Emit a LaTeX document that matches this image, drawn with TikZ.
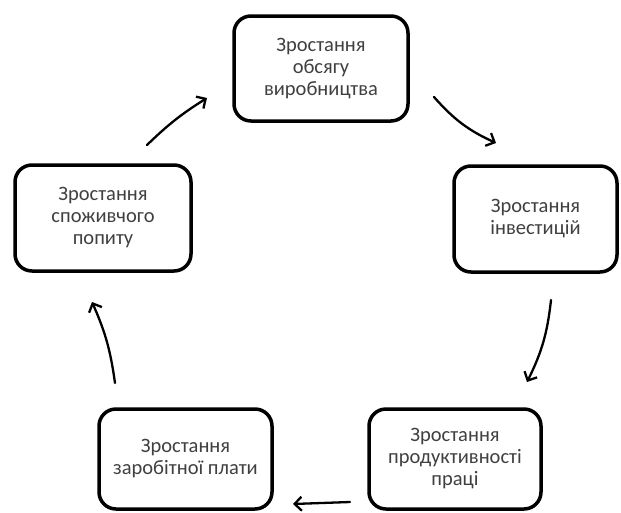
\documentclass[tikz,border=0pt]{standalone}
\usepackage{fontspec}
\setmainfont{Carlito}
\usetikzlibrary{arrows.meta}
\tikzset{
  box/.style={draw=black, line width=3.5pt, rounded corners=17pt, align=center,
    font=\fontsize{20.5}{22}\selectfont, text=black!75, inner sep=0pt, fill=white},
  arr/.style={line width=2.3pt, line cap=round, -{Straight Barb[length=7pt,width=14pt,line width=2.3pt]}}
}
\begin{document}
\begin{tikzpicture}[x=1pt,y=-1pt]
\useasboundingbox (0,0) rectangle (621,512);
\fill[white] (0,0) rectangle (621,512);
\node[box, minimum width=174pt, minimum height=105pt] (top) at (321,68.5) {Зростання\\обсягу\\виробництва};
\node[box, minimum width=163pt, minimum height=106pt] (right) at (535.5,219) {Зростання\\інвестицій};
\node[box, minimum width=176pt, minimum height=106pt] (left) at (103,218) {Зростання\\споживчого\\попиту};
\node[box, minimum width=173pt, minimum height=100pt] (bl) at (185.5,459) {Зростання\\заробітної плати};
\node[box, minimum width=172pt, minimum height=100pt] (br) at (455,459) {Зростання\\продуктивності\\праці};
\coordinate (a1s) at (147,145);
\coordinate (a1e) at (207,98);
\coordinate (a2s) at (434,97);
\coordinate (a2e) at (496,143);
\coordinate (a3s) at (551,300);
\coordinate (a3e) at (527,382);
\coordinate (a4s) at (350,502);
\coordinate (a4e) at (293,504);
\coordinate (a5s) at (115,383);
\coordinate (a5e) at (92,302);
\draw[arr] (a1s) to[bend left=6] (a1e);
\draw[arr] (a2s) to[bend right=12] (a2e);
\draw[arr] (a3s) to[bend left=10] (a3e);
\draw[arr] (a4s) -- (a4e);
\draw[arr] (a5s) to[bend right=8] (a5e);
\end{tikzpicture}
\end{document}
